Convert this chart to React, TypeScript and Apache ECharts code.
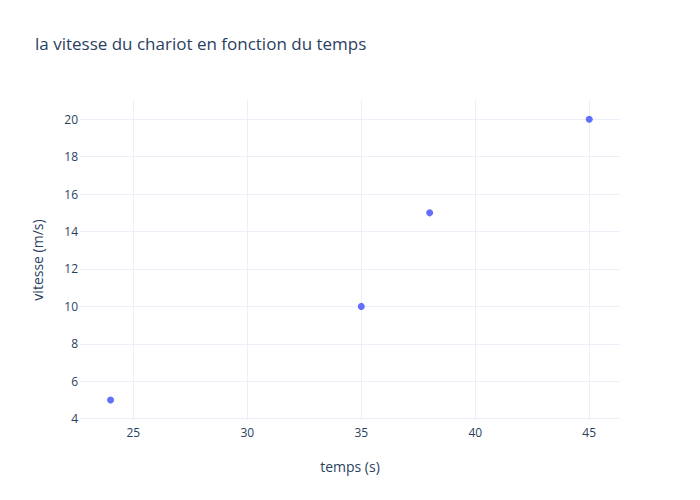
import React, { useEffect, useRef } from "react";
import * as echarts from "echarts";

const titleText = "la vitesse du chariot en fonction du temps";
const xName = "temps (s)";
const yName = "vitesse (m/s)";
const temps = [24, 35, 38, 45];
const vitesse = [5, 10, 15, 20];
const xTicks = [25, 30, 35, 40, 45];
const yTicks = [4, 6, 8, 10, 12, 14, 16, 18, 20];
const xRange = [22.66, 46.35];
const yRange = [3.93, 21.03];

const FONT = "'Open Sans', 'Noto Sans', sans-serif";
const TEXT = "#2a3f5f";
const GRID = "#EBF0F8";

export default function App() {
  const ref = useRef<HTMLDivElement>(null);
  useEffect(() => {
    if (!ref.current) return;
    const chart = echarts.init(ref.current, null, { renderer: "svg" });
    chart.setOption({
      animation: false,
      backgroundColor: "#fff",
      title: {
        text: titleText,
        left: 35,
        top: 35,
        padding: 0,
        textStyle: { fontFamily: FONT, fontSize: 17, fontWeight: "normal", color: TEXT },
      },
      grid: { left: 80, right: 80, top: 100, bottom: 80, containLabel: false },
      xAxis: {
        type: "value",
        min: xRange[0],
        max: xRange[1],
        name: xName,
        nameLocation: "middle",
        nameGap: 39,
        nameTextStyle: { fontFamily: FONT, fontSize: 14, color: TEXT },
        axisLine: { show: false },
        axisTick: { show: false, customValues: xTicks },
        axisLabel: { customValues: xTicks, fontFamily: FONT, fontSize: 12, color: TEXT, margin: 6 },
        splitLine: { show: true, lineStyle: { color: GRID, width: 1 } },
      },
      yAxis: {
        type: "value",
        min: yRange[0],
        max: yRange[1],
        name: yName,
        nameLocation: "middle",
        nameGap: 36,
        nameTextStyle: { fontFamily: FONT, fontSize: 14, color: TEXT },
        axisLine: { show: false },
        axisTick: { show: false, customValues: yTicks },
        axisLabel: { customValues: yTicks, fontFamily: FONT, fontSize: 12, color: TEXT, margin: 2 },
        splitLine: { show: true, lineStyle: { color: GRID, width: 1 } },
      },
      series: [
        {
          type: "scatter",
          data: temps.map((t, i) => [t, vitesse[i]]),
          symbolSize: 7,
          itemStyle: { color: "#636efa", opacity: 1 },
        },
      ],
    });
    return () => chart.dispose();
  }, []);
  return <div ref={ref} style={{ width: 700, height: 500, position: "absolute", left: 0, top: 0 }} />;
}
